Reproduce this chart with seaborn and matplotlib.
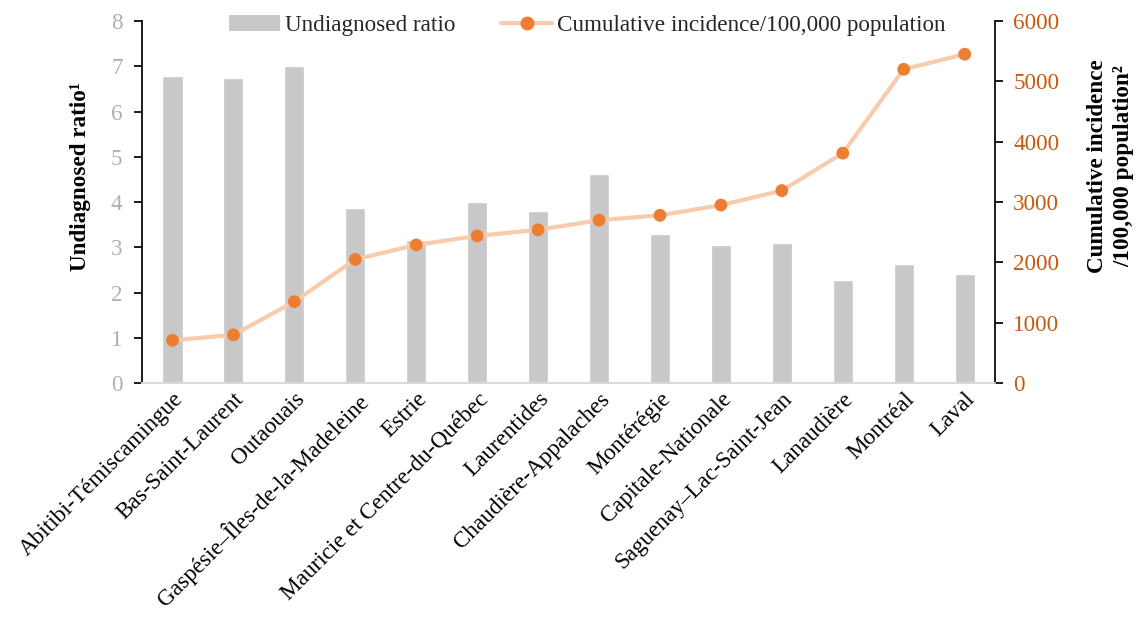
import matplotlib
matplotlib.use("Agg")
import matplotlib.pyplot as plt
import seaborn as sns
from matplotlib.patches import Patch
from matplotlib.lines import Line2D

regions = ["Abitibi-Témiscamingue", "Bas-Saint-Laurent", "Outaouais",
           "Gaspésie–Îles-de-la-Madeleine", "Estrie", "Mauricie et Centre-du-Québec",
           "Laurentides", "Chaudière-Appalaches", "Montérégie", "Capitale-Nationale",
           "Saguenay–Lac-Saint-Jean", "Lanaudière", "Montréal", "Laval"]
undiagnosed_ratio = [6.78, 6.73, 7.0, 3.86, 3.17, 4.01, 3.81, 4.62, 3.29, 3.05, 3.09, 2.28, 2.63, 2.42]
cum_incidence = [710, 800, 1350, 2050, 2290, 2440, 2540, 2700, 2780, 2950, 3190, 3810, 5200, 5450]

sns.set_theme(style="white")
plt.rcParams["font.family"] = ["Liberation Serif", "DejaVu Serif"]

bar_color = "#c8c8c8"
line_color = "#f8cbad"
marker_color = "#ed7d31"
right_tick_color = "#c55a11"
fs = 16.7

fig = plt.figure(figsize=(11.36, 6.17), dpi=100)
ax = fig.add_axes([0.125, 0.379, 0.751, 0.587])

sns.barplot(x=regions, y=undiagnosed_ratio, color=bar_color, width=0.33,
            saturation=1, ax=ax)
ax.set_ylim(0, 8)
ax.set_xlim(-0.5, len(regions) - 0.5)
ax.set_yticks(range(0, 9))
ax.tick_params(axis="y", labelcolor="#b0b0b0", color="black", labelsize=fs,
               direction="out", length=6, left=True, pad=8)
ax.tick_params(axis="x", labelsize=fs, length=0, pad=4, labelcolor="black")
for lbl in ax.get_xticklabels():
    lbl.set_rotation(45)
    lbl.set_ha("right")
    lbl.set_rotation_mode("anchor")
ax.set_ylabel("Undiagnosed ratio¹", fontsize=fs, fontweight="bold",
              color="black", labelpad=14, y=0.57)

ax2 = ax.twinx()
sns.lineplot(x=regions, y=cum_incidence, color=line_color, linewidth=3,
             sort=False, ax=ax2)
sns.scatterplot(x=regions, y=cum_incidence, color=marker_color, s=85,
                edgecolor="none", zorder=5, ax=ax2)
ax2.set_ylim(0, 6000)
ax2.set_yticks(range(0, 6001, 1000))
ax2.tick_params(axis="y", labelcolor=right_tick_color, color="black",
                labelsize=fs, direction="out", length=6, right=True, pad=7)
ax2.set_ylabel("Cumulative incidence\n/100,000 population²", fontsize=fs,
               fontweight="bold", color="black", labelpad=20,
               linespacing=1.3, y=0.6)

for a in (ax, ax2):
    a.spines["top"].set_visible(False)
    a.spines["bottom"].set_color("#d9d9d9")
    a.spines["left"].set_color("black")
    a.spines["right"].set_color("black")
ax.spines["right"].set_visible(False)
ax2.spines["left"].set_visible(False)

handles = [Patch(facecolor=bar_color, edgecolor="none"),
           Line2D([0], [0], color=line_color, linewidth=3, marker="o",
                  markersize=9, markerfacecolor=marker_color,
                  markeredgecolor=marker_color)]
fig.legend(handles, ["Undiagnosed ratio", "Cumulative incidence/100,000 population"],
           loc="upper center", bbox_to_anchor=(0.517, 1.01), ncol=2,
           frameon=False, fontsize=fs, handlelength=2.2, handletextpad=0.2,
           columnspacing=2.0)

fig.savefig("out.png", dpi=100)
